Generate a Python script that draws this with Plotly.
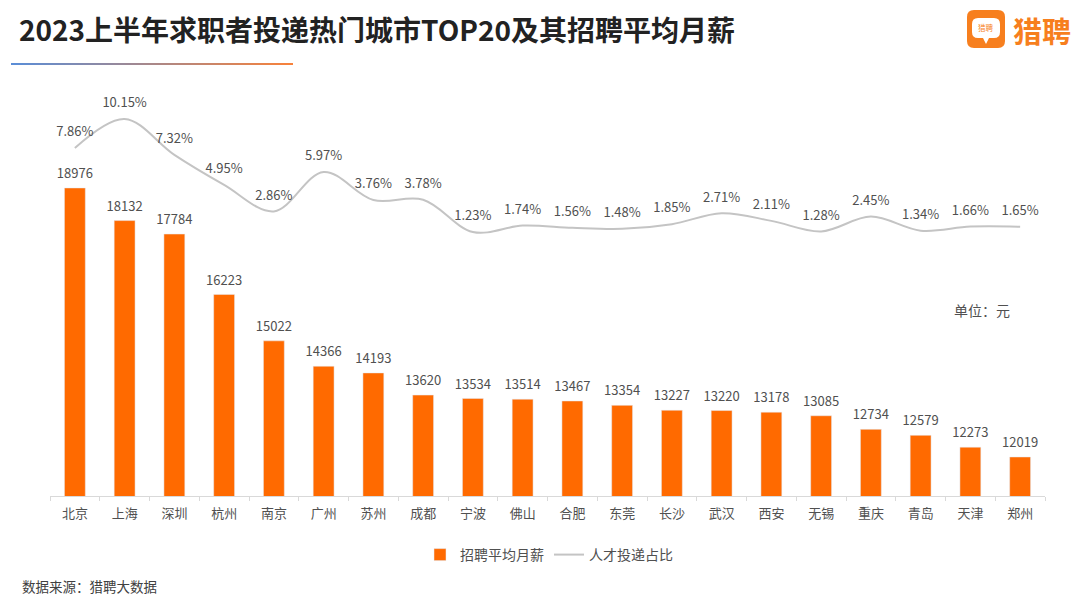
import plotly.graph_objects as go

cities = ["北京","上海","深圳","杭州","南京","广州","苏州","成都","宁波","佛山","合肥","东莞","长沙","武汉","西安","无锡","重庆","青岛","天津","郑州"]
salary = [18976,18132,17784,16223,15022,14366,14193,13620,13534,13514,13467,13354,13227,13220,13178,13085,12734,12579,12273,12019]
share = [7.86,10.15,7.32,4.95,2.86,5.97,3.76,3.78,1.23,1.74,1.56,1.48,1.85,2.71,2.11,1.28,2.45,1.34,1.66,1.65]

W, H = 1080, 605
L, R, T, B = 50, 35, 100, 109
FONT = "Noto Sans CJK SC"
def px(x): return (x - L) / (W - L - R)
def py(y): return (H - B - y) / (H - T - B)

fig = go.Figure()
fig.add_trace(go.Bar(x=cities, y=salary, name="招聘平均月薪", marker_color="#FF6A00", width=0.42))
fig.add_trace(go.Scatter(x=cities, y=share, name="人才投递占比", yaxis="y2", mode="lines+markers+text",
                         line=dict(color="#C4C4C4", width=2, shape="spline", smoothing=1),
                         marker=dict(size=12, color="rgba(0,0,0,0)"),
                         text=[f"{v:.2f}%" for v in share], textposition="top center", cliponaxis=False,
                         textfont=dict(size=13, color="#505050", family=FONT)))
# value labels over the bars, held a little above the bar tops by an invisible marker
fig.add_trace(go.Scatter(x=cities, y=salary, mode="markers+text", showlegend=False, hoverinfo="skip",
                         marker=dict(size=9, color="rgba(0,0,0,0)"),
                         text=[str(v) for v in salary], textposition="top center", cliponaxis=False,
                         textfont=dict(size=13, color="#505050", family=FONT)))

shapes = []
# gradient rule under the title
n = 47
c0, c1 = (91, 141, 214), (247, 130, 60)
for i in range(n):
    t = i / (n - 1)
    col = "rgb(%d,%d,%d)" % tuple(round(a + (b - a) * t) for a, b in zip(c0, c1))
    shapes.append(dict(type="line", xref="paper", yref="paper", layer="above",
                       x0=px(11 + 6 * i), x1=px(11 + 6 * (i + 1)), y0=py(64), y1=py(64),
                       line=dict(color=col, width=2)))
# logo
shapes.append(dict(type="path", xref="paper", yref="paper", fillcolor="#F77F1E", line=dict(width=0),
                   path=f"M {px(974)} {py(10)} L {px(998)} {py(10)} Q {px(1005)} {py(10)} {px(1005)} {py(17)} "
                        f"L {px(1005)} {py(41)} Q {px(1005)} {py(48)} {px(998)} {py(48)} L {px(974)} {py(48)} "
                        f"Q {px(967)} {py(48)} {px(967)} {py(41)} L {px(967)} {py(17)} Q {px(967)} {py(10)} {px(974)} {py(10)} Z"))
shapes.append(dict(type="path", xref="paper", yref="paper", fillcolor="white", line=dict(width=0),
                   path=f"M {px(978)} {py(18)} L {px(994)} {py(18)} Q {px(1000)} {py(18)} {px(1000)} {py(24)} "
                        f"L {px(1000)} {py(32)} Q {px(1000)} {py(38)} {px(994)} {py(38)} L {px(989)} {py(38)} L {px(986)} {py(44)} "
                        f"L {px(983)} {py(38)} L {px(978)} {py(38)} Q {px(972)} {py(38)} {px(972)} {py(32)} "
                        f"L {px(972)} {py(24)} Q {px(972)} {py(18)} {px(978)} {py(18)} Z"))

def label(x, y, text, size, color, bold=False, anchor="left"):
    return dict(xref="paper", yref="paper", x=px(x), y=py(y), text=f"<b>{text}</b>" if bold else text,
                showarrow=False, xanchor=anchor, yanchor="middle",
                font=dict(size=size, color=color, family=FONT))

annotations = [
    label(17, 29, "2023上半年求职者投递热门城市TOP20及其招聘平均月薪", 28, "#222222", bold=True),
    label(1011, 30, "猎聘", 29, "#F77F1E", bold=True),
    label(986, 28, "猎聘", 7.5, "#F77F1E", anchor="center"),
    label(952, 310, "单位：元", 14, "#505050"),
    label(20, 586, "数据来源：猎聘大数据", 13.5, "#404040"),
]

fig.update_layout(
    width=W, height=H, autosize=False,
    margin=dict(l=L, r=R, t=T, b=B, autoexpand=False, pad=0),
    paper_bgcolor="white", plot_bgcolor="white",
    font=dict(family=FONT, color="#505050", size=13),
    showlegend=True,
    legend=dict(orientation="h", xref="paper", yref="paper", x=px(420), y=py(539),
                xanchor="left", yanchor="top", font=dict(size=14, color="#505050", family=FONT),
                itemwidth=30, traceorder="normal", bgcolor="rgba(0,0,0,0)"),
    xaxis=dict(type="category", categoryorder="array", categoryarray=cities, range=[-0.5, 19.5],
               showgrid=False, showline=True, linecolor="#D9D9D9", linewidth=1, ticks="outside",
               tickson="boundaries", ticklen=4, tickcolor="#D9D9D9", ticklabelstandoff=5,
               tickfont=dict(size=13, color="#505050", family=FONT), zeroline=False),
    yaxis=dict(range=[11010, 21250], visible=False, showgrid=False, zeroline=False),
    yaxis2=dict(range=[-19.6, 11.65], overlaying="y", side="right", visible=False, showgrid=False, zeroline=False),
    shapes=shapes, annotations=annotations,
)

fig.write_html("out.html", config={"displayModeBar": False},
               post_script="document.body.style.margin='0';")
